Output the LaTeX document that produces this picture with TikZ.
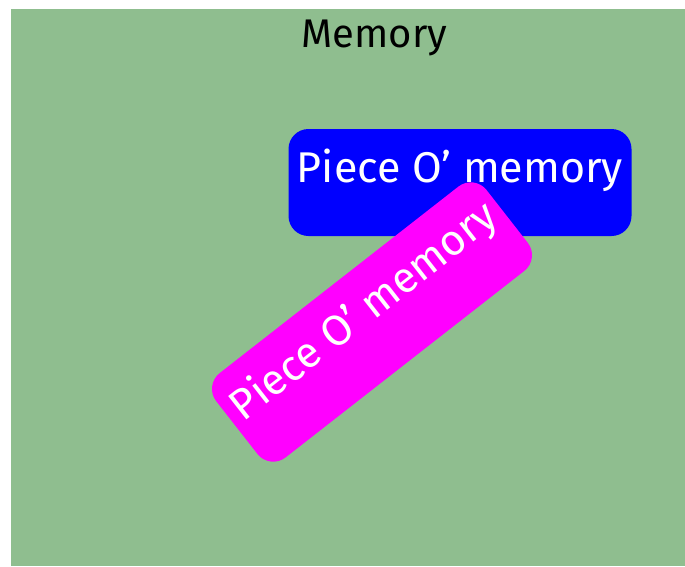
\documentclass[tikz,border=0pt]{standalone}
\usepackage{fontspec}
\setmainfont{Fira Sans}
\definecolor{pozadi}{RGB}{143,190,143}
\definecolor{ruzova}{RGB}{255,0,255}

\tikzset{
    kus/.style={rounded corners=20pt, minimum width=343pt, minimum height=107pt,
        inner sep=0pt, text=white, text height=20pt, text depth=20pt,
        font=\fontsize{43}{43}\selectfont},
}

\begin{document}
\begin{tikzpicture}[x=1pt,y=-1pt]
    \useasboundingbox (0,0) rectangle (685,566);
    % pozadí
    \fill[pozadi] (11,9) rectangle (685,566);
    \node[anchor=base, font=\fontsize{40}{40}\selectfont] (nazev) at (374.5,47) {Memory};

    % kusy paměti
    \node[kus, fill=blue] (modry) at (460,182.5) {Piece O' memory};
    \node[kus, fill=ruzova, rotate=38] (ruzovy) at (372,322) {Piece O' memory};
\end{tikzpicture}
\end{document}
